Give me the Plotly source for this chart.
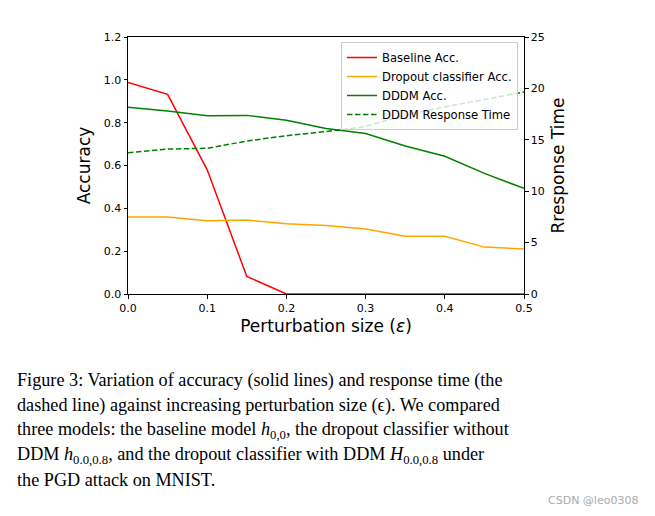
import plotly.graph_objects as go

eps = [0.0, 0.05, 0.1, 0.15, 0.2, 0.25, 0.3, 0.35, 0.4, 0.45, 0.5]
baseline_acc = [0.988, 0.932, 0.58, 0.082, 0.0, 0.0, 0.0, 0.0, 0.0, 0.0, 0.0]
dropout_acc = [0.36, 0.36, 0.342, 0.345, 0.328, 0.32, 0.303, 0.27, 0.27, 0.219, 0.21]
dddm_acc = [0.872, 0.854, 0.832, 0.834, 0.811, 0.773, 0.749, 0.691, 0.643, 0.563, 0.493]
dddm_time = [13.75, 14.1, 14.17, 14.88, 15.4, 15.8, 16.3, 17.4, 18.2, 18.9, 19.65]

x_ticks = [0.0, 0.1, 0.2, 0.3, 0.4, 0.5]
y_ticks = [0.0, 0.2, 0.4, 0.6, 0.8, 1.0, 1.2]
y2_ticks = [0, 5, 10, 15, 20, 25]

caption_lines = [
    "Figure 3: Variation of accuracy (solid lines) and response time (the",
    "dashed line) against increasing perturbation size (ϵ). We compared",
    "three models: the baseline model <i>h</i><sub>0,0</sub>, the dropout classifier without",
    "DDM <i>h</i><sub>0.0,0.8</sub>, and the dropout classifier with DDM <i>H</i><sub>0.0,0.8</sub> under",
    "the PGD attack on MNIST.",
]

# page body has an 8px margin; figure is shrunk and shifted accordingly
OFF = 8
W, H = 655 - OFF, 516 - OFF
PL, PR, PT, PB = 128, 524, 37, 294  # plot area in reference pixels


def px(xr):
    return (xr - PL) / (PR - PL)


def py(yr):
    return (PB - yr) / (PB - PT)


fig = go.Figure()
fig.add_trace(go.Scatter(x=eps, y=baseline_acc, mode="lines", name="Baseline Acc.",
                         line=dict(color="#ff0000", width=1.5)))
fig.add_trace(go.Scatter(x=eps, y=dropout_acc, mode="lines", name="Dropout classifier Acc.",
                         line=dict(color="#ffa500", width=1.5)))
fig.add_trace(go.Scatter(x=eps, y=dddm_acc, mode="lines", name="DDDM Acc.",
                         line=dict(color="#008000", width=1.5)))
fig.add_trace(go.Scatter(x=eps, y=dddm_time, mode="lines", name="DDDM Response Time",
                         yaxis="y2", line=dict(color="#008000", width=1.5, dash="5.5px,2.5px")))

tickfont = dict(family="DejaVu Sans", size=11, color="#000000")
titlefont = dict(family="DejaVu Sans", size=17, color="#000000")

fig.update_layout(
    width=W, height=H,
    margin=dict(l=PL - OFF, r=W - (PR - OFF), t=PT - OFF, b=H - (PB - OFF)),
    paper_bgcolor="white", plot_bgcolor="white",
    showlegend=True,
    legend=dict(x=px(518), y=py(42), xanchor="right", yanchor="top",
                bgcolor="rgba(255,255,255,0.8)", bordercolor="#cccccc", borderwidth=1,
                font=dict(family="DejaVu Sans", size=11.6, color="#000000"),
                tracegroupgap=0, itemwidth=30),
    xaxis=dict(range=[0, 0.5], tickvals=x_ticks, ticktext=[f"{v:.1f}" for v in x_ticks],
               showgrid=False, zeroline=False, showline=True, mirror=True,
               linecolor="#000000", linewidth=1, ticks="outside", ticklen=3.5,
               tickwidth=1, tickcolor="#000000", tickfont=tickfont,
               title=dict(text="Perturbation size (<i>ε</i>)", font=titlefont, standoff=6)),
    yaxis=dict(range=[0, 1.2], tickvals=y_ticks, ticktext=[f"{v:.1f}" for v in y_ticks],
               showgrid=False, zeroline=False, showline=True,
               linecolor="#000000", linewidth=1, ticks="outside", ticklen=3.5,
               tickwidth=1, tickcolor="#000000", tickfont=tickfont,
               title=dict(text="Accuracy", font=titlefont, standoff=8)),
    yaxis2=dict(range=[0, 25], tickvals=y2_ticks, ticktext=[str(v) for v in y2_ticks],
                overlaying="y", side="right",
                showgrid=False, zeroline=False, showline=True,
                linecolor="#000000", linewidth=1, ticks="outside", ticklen=3.5,
                tickwidth=1, tickcolor="#000000", tickfont=tickfont,
                title=dict(text="Rresponse Time", font=titlefont, standoff=8)),
)

line_y0 = 380
for i, txt in enumerate(caption_lines):
    fig.add_annotation(text=txt, xref="paper", yref="paper",
                       x=px(15), y=py(line_y0 + 25 * i),
                       xanchor="left", yanchor="middle", showarrow=False,
                       font=dict(family="Liberation Serif", size=18.2, color="#000000"))

fig.add_annotation(text="CSDN @leo0308", xref="paper", yref="paper",
                   x=px(640), y=py(500),
                   xanchor="right", yanchor="middle", showarrow=False,
                   font=dict(family="DejaVu Sans", size=11, color="#aaaaaa"))

fig.write_html("out.html")
